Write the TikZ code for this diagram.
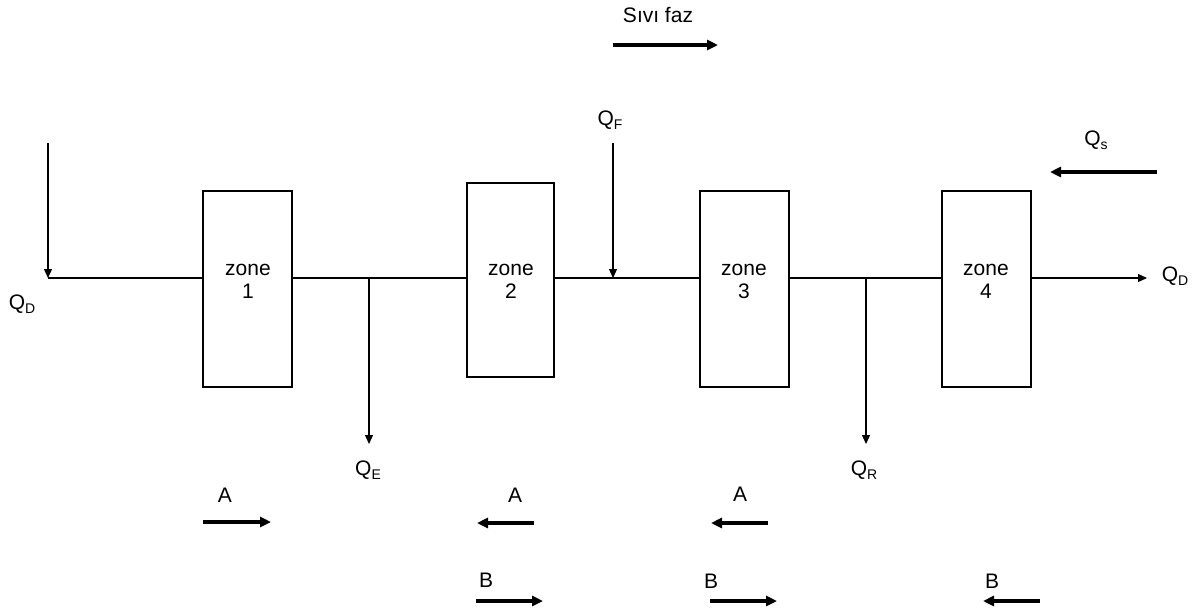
\documentclass[tikz,border=0pt]{standalone}
\usepackage{fontspec}
\setmainfont{Liberation Sans}
\usetikzlibrary{arrows.meta}
\newcommand{\qsub}[1]{\raisebox{-4pt}{\fontsize{14}{14}\selectfont #1}}

\begin{document}
\begin{tikzpicture}[x=1pt, y=-1pt,
    every node/.style={font=\fontsize{21}{23}\selectfont},
    zonebox/.style={draw, fill=white, line width=1.2pt, minimum width=89pt, minimum height=196pt, inner sep=0pt},
    flow/.style={-{Triangle[length=9pt,width=8pt]}, line width=1.2pt},
    phase/.style={-{Triangle[length=11pt,width=10pt]}, line width=3.5pt}]

    \useasboundingbox (0,0) rectangle (1204,614);

    % Boxes for the zones
    \node[zonebox] (z1) at (247.5,289) {};
    \node[zonebox, minimum width=87pt, minimum height=194pt] (z2) at (510.5,280) {};
    \node[zonebox] (z3) at (744.5,289) {};
    \node[zonebox] (z4) at (986.5,289) {};

    % zone names
    \node[align=center] (t1) at (248,281) {zone\\1};
    \node[align=center] (t2) at (511,281) {zone\\2};
    \node[align=center] (t3) at (744,281) {zone\\3};
    \node[align=center] (t4) at (986,281) {zone\\4};

    % points on the main line
    \coordinate (jD) at (48,278);
    \coordinate (jE) at (369,278);
    \coordinate (jF) at (613,278);
    \coordinate (jR) at (866,278);
    \coordinate (outD) at (1147,278);

    % main line
    \draw[line width=1.2pt] (jD) -- (jD -| z1.west);
    \draw[line width=1.2pt] (jD -| z1.east) -- (jD -| z2.west);
    \draw[line width=1.2pt] (jD -| z2.east) -- (jD -| z3.west);
    \draw[line width=1.2pt] (jD -| z3.east) -- (jD -| z4.west);
    \draw[flow] (jD -| z4.east) -- (outD);
    \node (qDout) at (1175,276) {Q\qsub{D}};

    % QD in
    \coordinate (inD) at (48,143);
    \draw[flow] (inD) -- (jD);
    \node (qDin) at (22,304) {Q\qsub{D}};

    % QE
    \coordinate (endE) at (369,444);
    \draw[flow] (jE) -- (endE);
    \node (qE) at (368,470) {Q\qsub{E}};

    % QF
    \node (qF) at (610,120) {Q\qsub{F}};
    \coordinate (inF) at (613,143);
    \draw[flow] (inF) -- (jF);

    % QR
    \coordinate (endR) at (866,444);
    \draw[flow] (jR) -- (endR);
    \node (qR) at (864,470) {Q\qsub{R}};

    % Qs
    \node (qs) at (1096,140) {Q\qsub{s}};
    \draw[phase] (1157,172) -- (1050,172);

    % liquid phase
    \node (liq) at (658,15) {Sıvı faz};
    \draw[phase] (613,45) -- (718,45);

    % A
    \node (a1) at (225,495) {A};
    \draw[phase] (203,522) -- (271,522);
    \node (a2) at (515,495) {A};
    \draw[phase] (534,523) -- (477,523);
    \node (a3) at (740,494) {A};
    \draw[phase] (768,523) -- (711,523);

    % B
    \node (b1) at (486,580) {B};
    \draw[phase] (476,601) -- (543,601);
    \node (b2) at (711,581) {B};
    \draw[phase] (710,601) -- (777,601);
    \node (b3) at (992,581) {B};
    \draw[phase] (1040,601) -- (983,601);

\end{tikzpicture}
\end{document}
